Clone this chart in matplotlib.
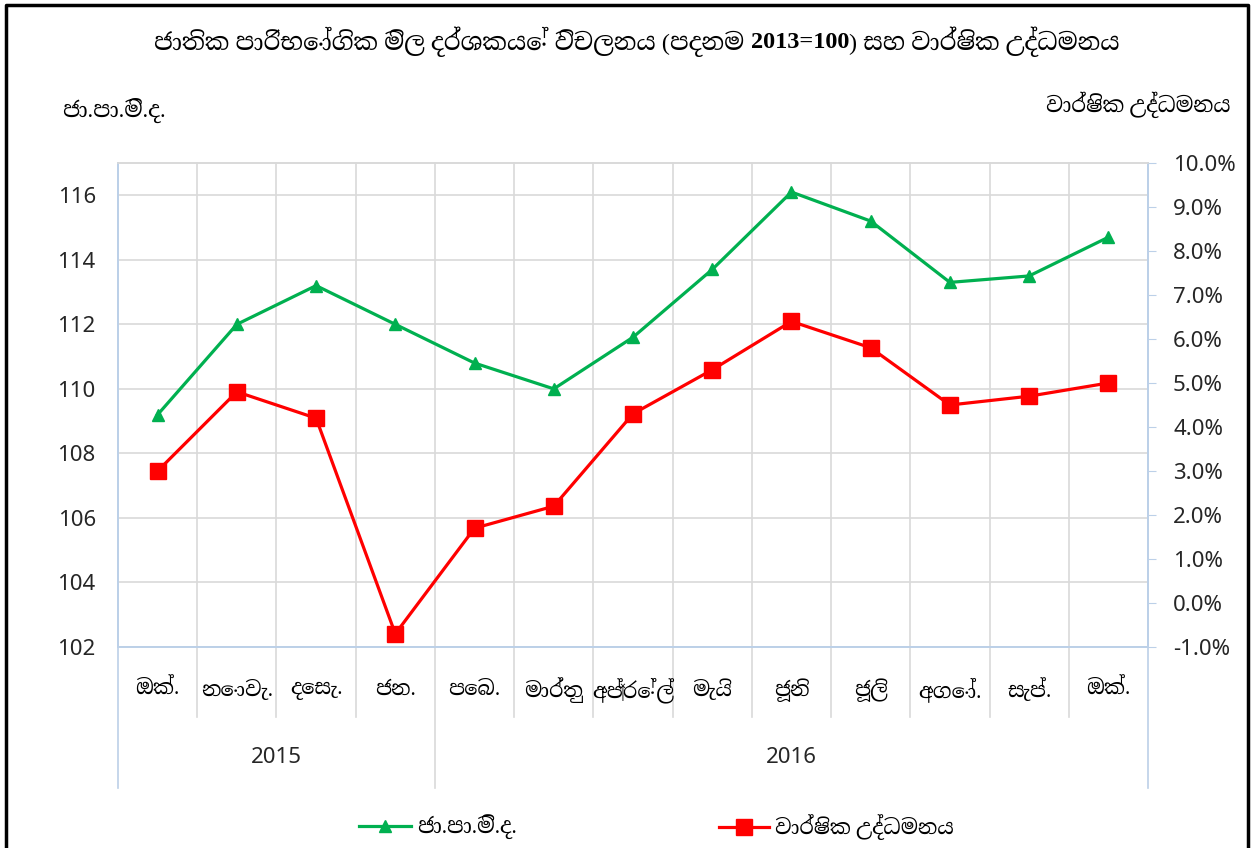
import numpy as np
import matplotlib.pyplot as plt
from matplotlib.lines import Line2D
from matplotlib.ticker import FuncFormatter

plt.rcParams['font.family'] = ['Noto Sans', 'DejaVu Sans']
SIN = ['Liberation Serif', 'Noto Serif Sinhala', 'DejaVu Sans']

# data ---
months = ['ඔක්.', 'නොවැ.', 'දෙසැ.', 'ජන.', 'පෙබ.', 'මාර්තු', 'අප්‍රේල්',
          'මැයි', 'ජූනි', 'ජූලි', 'අගෝ.', 'සැප්.', 'ඔක්.']
years = ['2015', '2016']
year_start = [0, 4]
year_end = [3, 12]
ccpi = [109.2, 112.0, 113.2, 112.0, 110.8, 110.0, 111.6, 113.7, 116.1, 115.2, 113.3, 113.5, 114.7]
inflation = [3.0, 4.8, 4.2, -0.7, 1.7, 2.2, 4.3, 5.3, 6.4, 5.8, 4.5, 4.7, 5.0]

title_parts = ['ජාතික පාරිභෝගික මිල දර්ශකයේ විචලනය (පදනම ', '2013=100', ') සහ වාර්ෂික උද්ධමනය']
title_bold = [False, True, False]
left_name = 'ජා.පා.මි.ද.'
right_name = 'වාර්ෂික උද්ධමනය'
#---

green = '#00b050'
red = '#ff0000'
grid_c = '#d9d9d9'
axis_c = '#bcd0e8'

W, H = 1255, 848
fig = plt.figure(figsize=(W/100, H/100), dpi=100)
ax = fig.add_axes([118/W, 1-647/H, (1148-118)/W, (647-163)/H])
ax2 = ax.twinx()

x = np.arange(len(months))
ax.plot(x, ccpi, color=green, lw=2.3, marker='^', markersize=8, zorder=3)
ax2.plot(x, inflation, color=red, lw=2.3, marker='s', markersize=12, zorder=3)

ax.set_xlim(-0.5, len(months)-0.5)
ax.set_ylim(102, 117)
ax.set_yticks(np.arange(102, 117, 2))
ax2.set_ylim(-1, 10)
ax2.set_yticks(np.arange(-1, 11, 1))
ax2.yaxis.set_major_formatter(FuncFormatter(lambda v, p: '%.1f%%' % v))

for a in (ax, ax2):
    for s in a.spines.values():
        s.set_color(axis_c)
        s.set_linewidth(1.2)
    a.tick_params(labelsize=16, colors='#404040', labelcolor='#262626')
ax.spines['top'].set_color(grid_c)
ax2.spines['top'].set_color(grid_c)
ax.tick_params(axis='y', length=0, pad=16)
ax2.tick_params(axis='y', length=6, pad=12, color=axis_c)
ax.set_xticks([])

ax.grid(axis='y', color=grid_c, lw=1.2)
ax.set_axisbelow(True)
ax2.set_zorder(ax.get_zorder()+1)
ax2.patch.set_visible(False)

# vertical separators inside plot and in the category area
tr = ax.get_xaxis_transform()
for k in range(len(months)+1):
    xb = k - 0.5
    long_line = (k == 0) or (k == len(months)) or (k in year_start)
    ybot = -0.291 if long_line else -0.145
    col = axis_c if k in (0, len(months)) else grid_c
    ax.plot([xb, xb], [ybot, 1], transform=tr, color=col, lw=1.2, clip_on=False, zorder=0)

for i, m in enumerate(months):
    ax.text(i, -0.089, m, transform=tr, ha='center', va='center', fontsize=15,
            color='black', family=SIN)
for y, s, e in zip(years, year_start, year_end):
    ax.text((s+e)/2, -0.229, y, transform=tr, ha='center', va='center', fontsize=16, color='#262626')

# title in three pieces so the middle can be bold
r = fig.canvas.get_renderer()
ts = []
for s, b in zip(title_parts, title_bold):
    ts.append(fig.text(0, 1-42/H, s, ha='left', va='center', fontsize=17.5, family=SIN,
                       fontweight='bold' if b else 'normal'))
ws = [t.get_window_extent(r).width for t in ts]
x0 = 637 - sum(ws)/2
for t, w in zip(ts, ws):
    t.set_x(x0/W)
    x0 += w

fig.text(62/W, 1-110/H, left_name, ha='left', va='center', fontsize=16, family=SIN)
fig.text(1230/W, 1-105/H, right_name, ha='right', va='center', fontsize=15.5, family=SIN)

h1 = Line2D([], [], color=green, lw=2.3, marker='^', markersize=8)
h2 = Line2D([], [], color=red, lw=2.3, marker='s', markersize=12)
fig.legend([h1], [left_name], loc='center left', bbox_to_anchor=(340/W, 1-827/H),
           frameon=False, prop={'family': SIN, 'size': 15.5}, handlelength=2.4, handletextpad=0.3)
fig.legend([h2], [right_name], loc='center left', bbox_to_anchor=(700/W, 1-827/H),
           frameon=False, prop={'family': SIN, 'size': 15}, handlelength=2.4, handletextpad=0.3)

# outer frame
fig.add_artist(Line2D([6/W, 6/W, 1248/W, 1248/W], [0, 1-5/H, 1-5/H, 0],
                      transform=fig.transFigure, color='black', lw=2.5))

plt.savefig('out.png', dpi=100)
